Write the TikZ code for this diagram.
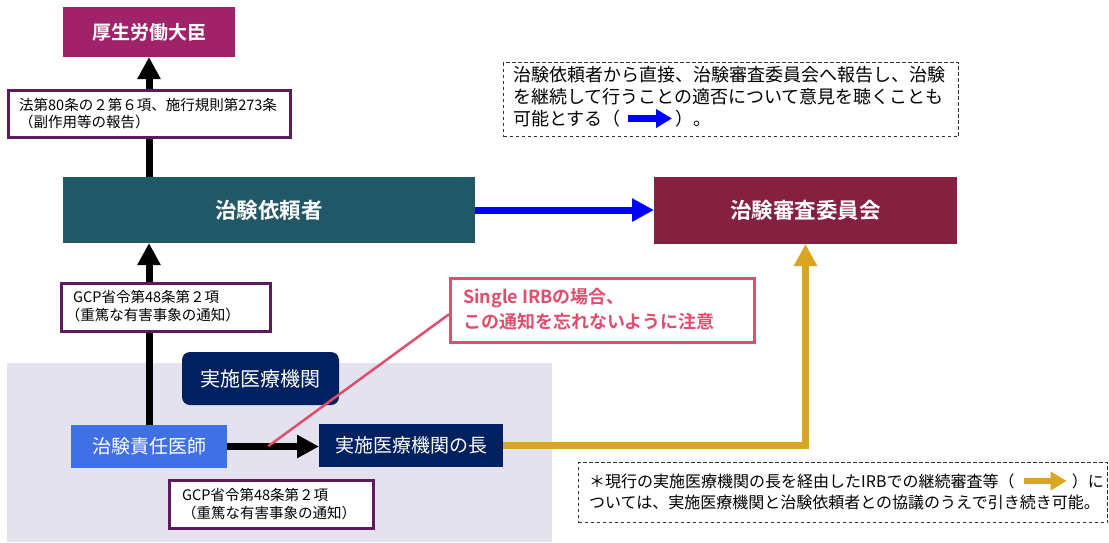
\documentclass[tikz,border=0pt]{standalone}
\usepackage{fontspec}
\setmainfont{Noto Sans CJK JP}[BoldFont={Noto Sans CJK JP Bold}]
\usetikzlibrary{arrows.meta,calc}
\definecolor{cMHLW}{HTML}{A02268}
\definecolor{cSponsor}{HTML}{215868}
\definecolor{cIRB}{HTML}{862040}
\definecolor{cLbl}{HTML}{5E1A5E}
\definecolor{cPink}{HTML}{E04E6F}
\definecolor{cGray}{HTML}{E3E2EE}
\definecolor{cNavy}{HTML}{002060}
\definecolor{cPI}{HTML}{3F70E6}
\definecolor{cGold}{HTML}{DAA520}
\definecolor{cBlue}{HTML}{0000FF}
\definecolor{cDash}{HTML}{333333}
\begin{document}
\begin{tikzpicture}[x=1pt,y=-1pt,
  box/.style={rectangle, inner sep=0pt, outer sep=0pt, anchor=north west, text=white},
  lblbox/.style={rectangle, draw=cLbl, line width=3pt, fill=white, anchor=north west, inner sep=0pt, outer sep=0pt},
  lbltext/.style={anchor=west, align=left, inner sep=0pt, font=\fontsize{14.5}{17.5}\selectfont},
  dbox/.style={rectangle, draw=cDash, line width=1pt, dash pattern=on 3.5pt off 2.5pt, anchor=north west, inner sep=0pt},
  ntext/.style={anchor=base west, inner sep=0pt},
  bigarrow/.style={line width=7pt, -{Triangle[length=22pt,width=22pt]}},
  smallarrow/.style={line width=6.5pt, -{Triangle[length=16pt,width=18pt]}},
]
\useasboundingbox (0,0) rectangle (1109,542);
% shaded area
\fill[cGray] (7,363) rectangle (552,542);

% main boxes
\node[box, fill=cMHLW, minimum width=172pt, minimum height=50pt,
      font=\bfseries\fontsize{19}{22}\selectfont] (mhlw) at (63,7) {厚生労働大臣};
\node[box, fill=cSponsor, minimum width=412pt, minimum height=66pt,
      font=\bfseries\fontsize{21.5}{25}\selectfont] (sponsor) at (63,177) {治験依頼者};
\node[box, fill=cIRB, minimum width=303pt, minimum height=67pt,
      font=\bfseries\fontsize{21.5}{25}\selectfont] (irb) at (654,177) {治験審査委員会};
\node[box, fill=cNavy, rounded corners=8pt, minimum width=157pt, minimum height=53pt,
      font=\fontsize{20}{24}\selectfont] (site) at (182,352) {実施医療機関};
\node[box, fill=cPI, minimum width=156pt, minimum height=43pt,
      font=\fontsize{19}{22}\selectfont] (pi) at (71,425) {治験責任医師};
\node[box, fill=cNavy, minimum width=184pt, minimum height=43pt,
      font=\fontsize{19}{22}\selectfont] (head) at (319,424) {実施医療機関の長};

% arrows
\draw[bigarrow, draw=black] (pi.north) -- (pi.north |- sponsor.south);
\draw[bigarrow, draw=black] (pi.north |- sponsor.north) -- (pi.north |- mhlw.south);
\draw[bigarrow, draw=black] (pi.east) -- (pi.east -| head.west);
\draw[bigarrow, draw=cBlue] (sponsor.east) -- (sponsor.east -| irb.west);
\draw[bigarrow, draw=cGold] (head.east) -| (irb.south);

% label boxes
\node[lblbox, minimum width=282pt, minimum height=47pt] (l1) at (8,90) {};
\node[lbltext] (l1t) at ([xshift=11pt]l1.west) {法第80条の２第６項、施行規則第273条\\（副作用等の報告）};
\node[lblbox, minimum width=209pt, minimum height=48pt] (l2) at (61,283) {};
\node[lbltext] (l2t) at ([xshift=12pt,yshift=1pt]l2.west) {GCP省令第48条第２項\\\hspace*{-0.5em}（重篤な有害事象の通知）};
\node[lblbox, minimum width=204pt, minimum height=48pt] (l3) at (169,480) {};
\node[lbltext] (l3t) at ([xshift=13pt]l3.west) {GCP省令第48条第２項\\（重篤な有害事象の通知）};

% callout
\coordinate (pinkend) at ($(pi.east)!0.45!(head.west)$);
\node[rectangle, draw=cPink, line width=2.5pt, fill=white, anchor=north west, inner sep=0pt,
      minimum width=304pt, minimum height=64pt] (callout) at (449,277) {};
\draw[cPink, line width=2.5pt] ([yshift=-4pt]callout.west) -- (pinkend);
\node[anchor=west, align=left, inner sep=0pt, text=cPink, font=\bfseries\fontsize{18}{25}\selectfont]
      (ct) at ([xshift=14pt,yshift=1.5pt]callout.west) {Single IRBの場合、\\この通知を忘れないように注意};

% note 1
\node[dbox, minimum width=455pt, minimum height=74pt] (note1) at (503,62) {};
\begin{scope}[every node/.style={font=\fontsize{18}{22}\selectfont}]
\node[ntext] (n1a) at (513,81.8) {治験依頼者から直接、治験審査委員会へ報告し、治験};
\node[ntext] (n1b) at (513,103.8) {を継続して行うことの適否について意見を聴くことも};
\node[ntext] (n1c) at (513,125.3) {可能とする（};
\node[ntext] (n1d) at (675,125.3) {）。};
\end{scope}
\draw[smallarrow, draw=cBlue] ([xshift=-47pt]n1d.west) -- ([xshift=-3pt]n1d.west);

% note 2
\node[dbox, minimum width=529pt, minimum height=60pt] (note2) at (578,462) {};
\begin{scope}[every node/.style={font=\fontsize{16}{19}\selectfont}]
\node[ntext] (n2a) at (589,487) {＊現行の実施医療機関の長を経由したIRBでの継続審査等（};
\node[anchor=base east, inner sep=0pt] (n2b) at (1104,487) {）に};
\node[ntext] (n2c) at (589,508.5) {ついては、実施医療機関と治験依頼者との協議のうえで引き続き可能。};
\end{scope}
\draw[smallarrow, draw=cGold] ([xshift=-48pt]n2b.west) -- ([xshift=-5pt]n2b.west);
\end{tikzpicture}
\end{document}
